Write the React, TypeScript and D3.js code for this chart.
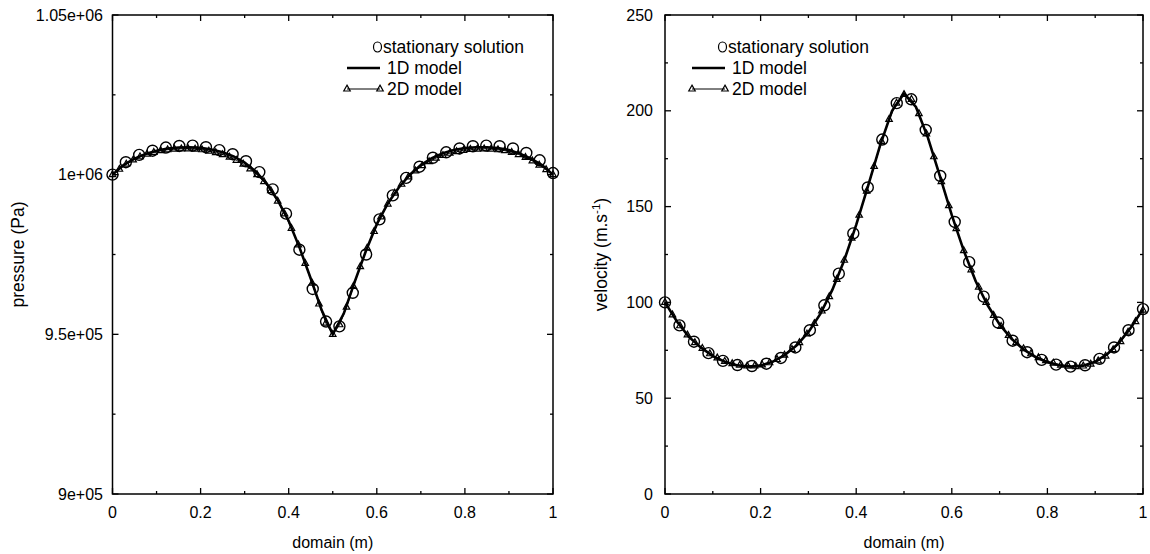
import React from "react";
import * as d3 from "d3";

// ---------- data ----------
// stationary solution sampled at i/33
const statX: number[] = d3.range(34).map((i) => i / 33);
const pressStat: number[] = [
  1000000, 1003900, 1006200, 1007500, 1008500, 1009000, 1009100, 1008600, 1007700, 1006400,
  1004200, 1000800, 995400, 987800, 976500, 964200, 954000, 952500, 963000, 975000,
  986000, 993500, 999000, 1002500, 1005300, 1007000, 1008200, 1008900, 1009100, 1008900,
  1008200, 1006800, 1004500, 1000500,
];
const velStat: number[] = [
  100, 88, 79.5, 73.5, 69.5, 67.3, 66.8, 68.0, 71.0, 76.5,
  85.5, 98.5, 115, 136, 160, 185, 204, 206, 190, 166,
  142, 121, 103, 89.5, 80, 74, 70, 67.5, 66.5, 67.2,
  70.5, 76.5, 85.5, 96.5,
];

// 1D model sampled every 0.025
const oneDX: number[] = d3.range(41).map((i) => i * 0.025);
const press1D: number[] = [
  1000000, 1003000, 1005000, 1006500, 1007500, 1008200, 1008500, 1008600, 1008400, 1007900,
  1007000, 1005700, 1003800, 1001000, 997200, 992000, 985500, 977000, 967500, 957500,
  950000, 956500, 966500, 976000, 984500, 991000, 996000, 1000000, 1003000, 1005200,
  1006700, 1007700, 1008300, 1008600, 1008600, 1008300, 1007700, 1006600, 1005000, 1003000,
  1000000,
];
const vel1D: number[] = [
  100, 90, 82, 76.5, 72, 69, 67.2, 66.5, 67, 69,
  72.5, 77.5, 84.5, 94, 106.5, 122, 140.5, 161, 182, 200,
  209, 202, 186, 166, 145.5, 127, 111, 98.5, 88.5, 81,
  75.5, 71.5, 68.8, 67.2, 66.5, 67.0, 69.0, 73, 79, 87,
  96.5,
];

// 2D model sampled at k/64
const twoDX: number[] = d3.range(65).map((k) => k / 64);
const press2D: number[] = [
  1000000, 1001700, 1003300, 1004600, 1005600, 1006400, 1007000, 1007500, 1007800, 1008000,
  1008100, 1008100, 1008000, 1007800, 1007400, 1006900, 1006300, 1005500, 1004500, 1003300,
  1001800, 1000000, 997800, 995000, 991700, 987700, 983200, 978000, 972200, 966000,
  959500, 953500, 950000, 953000, 958500, 965000, 971200, 977000, 982200, 986800,
  990800, 994200, 997000, 999300, 1001200, 1002800, 1004100, 1005200, 1006000, 1006700,
  1007200, 1007600, 1007900, 1008000, 1008100, 1008000, 1007800, 1007500, 1007000, 1006300,
  1005400, 1004300, 1003000, 1001600, 1000000,
];
const vel2D: number[] = [
  100, 93.5, 87.8, 83, 79, 76, 73.2, 71, 69.2, 68,
  67.2, 66.8, 66.9, 67.4, 68.5, 70.2, 72.5, 75.5, 79, 83.5,
  89, 95.5, 103, 112, 122, 133.5, 145.5, 158, 171, 184,
  195.5, 204, 208.5, 206, 198.5, 188, 176, 163, 150.5, 138.5,
  127, 117, 108, 100, 93.2, 87.5, 82.8, 79, 75.8, 73.2,
  71.2, 69.6, 68.3, 67.3, 66.7, 66.5, 66.8, 67.8, 69.5, 72,
  75.3, 79.5, 84.5, 90, 96,
];

const xTicks: number[] = [0, 0.2, 0.4, 0.6, 0.8, 1];
const xTickLabels: string[] = ["0", "0.2", "0.4", "0.6", "0.8", "1"];
const xMinor: number[] = [0.1, 0.3, 0.5, 0.7, 0.9];
const pTicks: number[] = [900000, 950000, 1000000, 1050000];
const pTickLabels: string[] = ["9e+05", "9.5e+05", "1e+06", "1.05e+06"];
const pMinor: number[] = [925000, 975000, 1025000];
const vTicks: number[] = [0, 50, 100, 150, 200, 250];
const vTickLabels: string[] = ["0", "50", "100", "150", "200", "250"];
const vMinor: number[] = [25, 75, 125, 175, 225];
const legendLabels: string[] = ["stationary solution", "1D model", "2D model"];

const FONT = "'Liberation Sans', Arial, Helvetica, sans-serif";
const TXT = "#000";

type PanelProps = {
  left: number;
  right: number;
  yDomain: [number, number];
  yTicks: number[];
  yTickLabels: string[];
  yMinor: number[];
  yLabelGap: number;
  stat: number[];
  one: number[];
  two: number[];
  yTitle: React.ReactNode;
  yTitleX: number;
  legendX: number;
};

const TOP = 15;
const BOTTOM = 494;
const TRI = 6.5;

function triPath(cx: number, cy: number, s: number) {
  const h = s * 0.9;
  return `M${cx},${cy - h * 0.66}L${cx + s / 2},${cy + h * 0.34}L${cx - s / 2},${cy + h * 0.34}Z`;
}

function Panel(p: PanelProps) {
  const x = d3.scaleLinear().domain([0, 1]).range([p.left, p.right]);
  const y = d3.scaleLinear().domain(p.yDomain).range([BOTTOM, TOP]);
  const line1 = d3
    .line<number>()
    .x((_, i) => x(oneDX[i]))
    .y((d) => y(d));
  const line2 = d3
    .line<number>()
    .x((_, i) => x(twoDX[i]))
    .y((d) => y(d));
  const MAJ = 6;
  const MIN = 3;
  const lx = p.legendX;
  return (
    <g>
      {xTicks.map((t, i) => (
        <g key={"xt" + i}>
          <line x1={x(t)} x2={x(t)} y1={BOTTOM} y2={BOTTOM - MAJ} stroke="#000" strokeWidth={1.3} />
          <line x1={x(t)} x2={x(t)} y1={TOP} y2={TOP + MAJ} stroke="#000" strokeWidth={1.3} />
          <text x={x(t)} y={517.5} textAnchor="middle" fontSize={16} fill={TXT} fontFamily={FONT}>
            {xTickLabels[i]}
          </text>
        </g>
      ))}
      {xMinor.map((t, i) => (
        <g key={"xm" + i}>
          <line x1={x(t)} x2={x(t)} y1={BOTTOM} y2={BOTTOM - MIN} stroke="#000" strokeWidth={1.3} />
          <line x1={x(t)} x2={x(t)} y1={TOP} y2={TOP + MIN} stroke="#000" strokeWidth={1.3} />
        </g>
      ))}
      {p.yTicks.map((t, i) => (
        <g key={"yt" + i}>
          <line x1={p.left} x2={p.left + MAJ} y1={y(t)} y2={y(t)} stroke="#000" strokeWidth={1.3} />
          <line x1={p.right} x2={p.right - MAJ} y1={y(t)} y2={y(t)} stroke="#000" strokeWidth={1.3} />
          <text x={p.left - p.yLabelGap} y={y(t) + 5.5} textAnchor="end" fontSize={16} fill={TXT} fontFamily={FONT}>
            {p.yTickLabels[i]}
          </text>
        </g>
      ))}
      {p.yMinor.map((t, i) => (
        <g key={"ym" + i}>
          <line x1={p.left} x2={p.left + MIN} y1={y(t)} y2={y(t)} stroke="#000" strokeWidth={1.3} />
          <line x1={p.right} x2={p.right - MIN} y1={y(t)} y2={y(t)} stroke="#000" strokeWidth={1.3} />
        </g>
      ))}
      {p.stat.map((v, i) => (
        <circle key={"c" + i} cx={x(statX[i])} cy={y(v)} r={5.5} fill="none" stroke="#000" strokeWidth={1.4} />
      ))}
      <path d={line1(p.one) || ""} fill="none" stroke="#000" strokeWidth={2.6} />
      <path d={line2(p.two) || ""} fill="none" stroke="#000" strokeWidth={1} />
      {p.two.map((v, i) => (
        <path key={"t" + i} d={triPath(x(twoDX[i]), y(v), TRI)} fill="none" stroke="#000" strokeWidth={1.2} />
      ))}
      <rect x={p.left} y={TOP} width={p.right - p.left} height={BOTTOM - TOP} fill="none" stroke="#000" strokeWidth={1.5} />
      <text x={(p.left + p.right) / 2} y={548} textAnchor="middle" fontSize={16} fill={TXT} fontFamily={FONT}>
        domain (m)
      </text>
      <text
        transform={`translate(${p.yTitleX},${(TOP + BOTTOM) / 2}) rotate(-90)`}
        textAnchor="middle"
        fontSize={17.5}
        fill={TXT}
        fontFamily={FONT}
      >
        {p.yTitle}
      </text>
      <ellipse cx={lx + 30.5} cy={47} rx={4} ry={5} fill="none" stroke="#000" strokeWidth={1.2} />
      <text x={lx + 36} y={53} fontSize={17.5} fill={TXT} fontFamily={FONT}>
        {legendLabels[0]}
      </text>
      <line x1={lx} x2={lx + 33} y1={68} y2={68} stroke="#000" strokeWidth={2.6} />
      <text x={lx + 40} y={74} fontSize={17.5} fill={TXT} fontFamily={FONT}>
        {legendLabels[1]}
      </text>
      <line x1={lx} x2={lx + 33} y1={89} y2={89} stroke="#000" strokeWidth={1} />
      <path d={triPath(lx, 89, TRI)} fill="none" stroke="#000" strokeWidth={1.2} />
      <path d={triPath(lx + 33, 89, TRI)} fill="none" stroke="#000" strokeWidth={1.2} />
      <text x={lx + 40} y={95} fontSize={17.5} fill={TXT} fontFamily={FONT}>
        {legendLabels[2]}
      </text>
    </g>
  );
}

export default function App() {
  return (
    <svg width={1150} height={554} style={{ position: "absolute", left: 0, top: 0, background: "#fff" }}>
      <rect x={0} y={0} width={1150} height={554} fill="#fff" />
      <Panel
        left={112.5}
        right={553}
        yDomain={[900000, 1050000]}
        yTicks={pTicks}
        yTickLabels={pTickLabels}
        yMinor={pMinor}
        yLabelGap={9.5}
        stat={pressStat}
        one={press1D}
        two={press2D}
        yTitle="pressure (Pa)"
        yTitleX={24}
        legendX={347}
      />
      <Panel
        left={665}
        right={1143}
        yDomain={[0, 250]}
        yTicks={vTicks}
        yTickLabels={vTickLabels}
        yMinor={vMinor}
        yLabelGap={12}
        stat={velStat}
        one={vel1D}
        two={vel2D}
        yTitle={
          <>
            velocity (m.s
            <tspan dy={-7} fontSize={11.5}>
              -1
            </tspan>
            <tspan dy={7}>)</tspan>
          </>
        }
        yTitleX={607}
        legendX={692}
      />
    </svg>
  );
}
